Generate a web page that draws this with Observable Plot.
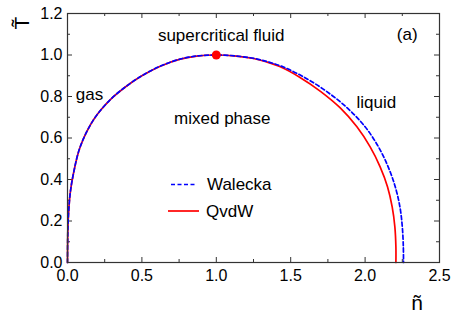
<!DOCTYPE html>
<html>
<head>
<meta charset="utf-8">
<script src="https://cdn.jsdelivr.net/npm/d3@7"></script>
<script src="https://cdn.jsdelivr.net/npm/@observablehq/plot@0.6"></script>
<style>
  html, body { margin: 0; padding: 0; background: #fff; }
  #chart { width: 454px; height: 321px; }
</style>
</head>
<body>
<div id="chart"></div>
<script>
// ---- data ----
const qvdwN = [0, 0.001, 0.003, 0.007, 0.018, 0.040, 0.085, 0.175, 0.288, 0.40, 0.50, 0.62, 0.757, 0.88, 1.0, 1.12, 1.25, 1.34, 1.43, 1.56, 1.70, 1.833, 1.945, 2.034, 2.101, 2.151, 2.182, 2.200, 2.207, 2.207];
const qvdwT = [0, 0.10, 0.17, 0.236, 0.333, 0.429, 0.557, 0.688, 0.785, 0.852, 0.90, 0.945, 0.980, 0.996, 1.0, 0.996, 0.983, 0.966, 0.943, 0.893, 0.825, 0.745, 0.654, 0.557, 0.461, 0.364, 0.268, 0.172, 0.075, 0];
const waleckaN = [0, 0.001, 0.003, 0.007, 0.018, 0.040, 0.085, 0.175, 0.288, 0.40, 0.50, 0.62, 0.757, 0.88, 1.0, 1.122, 1.258, 1.352, 1.448, 1.590, 1.740, 1.880, 2.000, 2.090, 2.155, 2.203, 2.234, 2.250, 2.257, 2.258];
const waleckaT = [0, 0.10, 0.17, 0.236, 0.333, 0.429, 0.557, 0.688, 0.785, 0.852, 0.90, 0.945, 0.980, 0.996, 1.0, 0.996, 0.983, 0.966, 0.943, 0.893, 0.825, 0.745, 0.654, 0.557, 0.461, 0.364, 0.268, 0.172, 0.075, 0];
const criticalN = [1.0];
const criticalT = [1.0];

const xMajor = [0, 0.5, 1.0, 1.5, 2.0, 2.5];
const xMinor = [0.25, 0.75, 1.25, 1.75, 2.25];
const yMajor = [0, 0.2, 0.4, 0.6, 0.8, 1.0, 1.2];
const yMinor = [0.1, 0.3, 0.5, 0.7, 0.9, 1.1];

const noteText = ["supercritical fluid", "(a)", "gas", "mixed phase", "liquid"];
const noteN = [1.033, 2.283, 0.148, 1.04, 2.075];
const noteT = [1.094, 1.097, 0.808, 0.692, 0.770];

const seriesNames = ["Walecka", "QvdW"];

// ---- build tables ----
const qvdw = qvdwN.map((n, i) => ({n, T: qvdwT[i]}));
const walecka = waleckaN.map((n, i) => ({n, T: waleckaT[i]}));
const critical = criticalN.map((n, i) => ({n, T: criticalT[i]}));
const notes = noteText.map((t, i) => ({t, n: noteN[i], T: noteT[i]}));

const W = 454, H = 321, mL = 67, mR = 15, mT = 13, mB = 59;
const iw = W - mL - mR, ih = H - mT - mB;
const font = "'Liberation Sans', Arial, Helvetica, sans-serif";
const axisColor = "#333";

const chart = Plot.plot({
  width: W, height: H,
  marginLeft: mL, marginRight: mR, marginTop: mT, marginBottom: mB,
  style: {fontFamily: font, fontSize: "16px", color: "#000", background: "#fff", overflow: "visible"},
  x: {domain: [0, 2.5]},
  y: {domain: [0, 1.2]},
  marks: [
    Plot.axisX(xMajor, {tickSize: 0, tickPadding: 7, tickFormat: d => d.toFixed(1), fontSize: 16, label: null}),
    Plot.axisY(yMajor, {tickSize: 0, tickPadding: 5, tickFormat: d => d.toFixed(1), fontSize: 16, label: null}),
    // inward ticks
    Plot.tickX(xMajor, {x: d => d, insetTop: ih - 5, stroke: axisColor}),
    Plot.tickX(xMinor, {x: d => d, insetTop: ih - 3, stroke: axisColor}),
    Plot.tickX(xMajor, {x: d => d, insetBottom: ih - 5, stroke: axisColor}),
    Plot.tickX(xMinor, {x: d => d, insetBottom: ih - 3, stroke: axisColor}),
    Plot.tickY(yMajor, {y: d => d, insetRight: iw - 5, stroke: axisColor}),
    Plot.tickY(yMinor, {y: d => d, insetRight: iw - 3, stroke: axisColor}),
    Plot.tickY(yMajor, {y: d => d, insetLeft: iw - 5, stroke: axisColor}),
    Plot.tickY(yMinor, {y: d => d, insetLeft: iw - 3, stroke: axisColor}),
    Plot.line(qvdw, {x: "n", y: "T", stroke: "#ff0000", strokeWidth: 1.7, curve: "catmull-rom"}),
    Plot.line(walecka, {x: "n", y: "T", stroke: "#0000ff", strokeWidth: 1.7, strokeDasharray: "4,2.5", curve: "catmull-rom"}),
    Plot.dot(critical, {x: "n", y: "T", r: 4.5, fill: "#ff0000", stroke: "none"}),
    Plot.text(notes, {x: "n", y: "T", text: "t", fontSize: 17, fill: "#000"}),
    Plot.frame({stroke: axisColor, strokeWidth: 1.2})
  ]
});

document.getElementById("chart").appendChild(chart);

// legend and axis titles (layout in pixels)
const svg = d3.select(chart);
const leg = svg.append("g").attr("font-family", font).attr("font-size", 17).attr("text-anchor", "start");
const legY = [184.5, 211];
leg.append("line").attr("x1", 171).attr("x2", 197).attr("y1", legY[0]).attr("y2", legY[0])
  .attr("stroke", "#0000ff").attr("stroke-width", 1.7).attr("stroke-dasharray", "4,2.5");
leg.append("line").attr("x1", 168).attr("x2", 199).attr("y1", legY[1]).attr("y2", legY[1])
  .attr("stroke", "#ff0000").attr("stroke-width", 1.7);
leg.append("text").attr("x", 207).attr("y", legY[0]).attr("dy", "0.35em").attr("text-anchor", "start").text(seriesNames[0]);
leg.append("text").attr("x", 206).attr("y", legY[1]).attr("dy", "0.35em").attr("text-anchor", "start").text(seriesNames[1]);

svg.append("text").attr("x", 417).attr("y", 310).attr("text-anchor", "middle")
  .attr("font-family", font).attr("font-size", 21).text("n\u0303");
svg.append("text").attr("transform", "translate(29,23) rotate(-90)").attr("text-anchor", "middle")
  .attr("font-family", font).attr("font-size", 21).text("T\u0303");
</script>
</body>
</html>
